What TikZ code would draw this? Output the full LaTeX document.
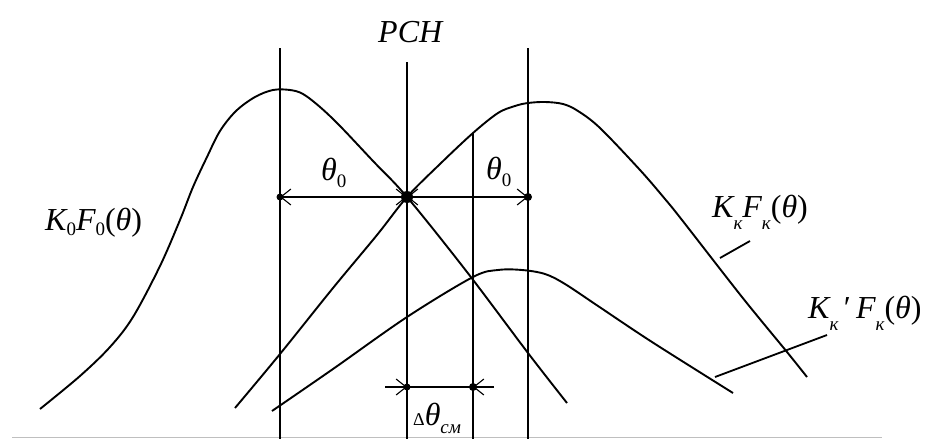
\documentclass[tikz,border=0pt]{standalone}
\usepackage{fontspec}
\setmainfont{Liberation Serif}
\usetikzlibrary{arrows.meta,calc}
\newcommand\lsub[2]{\raisebox{-#1pt}{\fontsize{19}{19}\selectfont #2}}
\begin{document}
\begin{tikzpicture}[x=1pt,y=-1pt,
  vline/.style={line width=2.1pt},
  curve/.style={line width=1.9pt, line join=round},
  dim/.style={line width=2pt},
  barb/.style={-{Straight Barb[length=10pt,width=16pt,line width=1.1pt]}},
  leader/.style={line width=1.8pt},
  lbl/.style={inner sep=0pt, anchor=base west, font=\fontsize{32}{32}\selectfont\itshape},
  dot/.style={circle, fill, inner sep=0pt, minimum size=#1}]
\useasboundingbox (0,0) rectangle (929,439);

% bottom border
\coordinate (g1) at (12,437.5);
\coordinate (g2) at (882,437.5);
\draw[gray!50, line width=1.5pt] (g1) -- (g2);

% vertical lines
\coordinate (Lt) at (280,48);  \coordinate (Lb) at (280,439);
\coordinate (Ct) at (407,62);  \coordinate (Cb) at (407,439);
\coordinate (It) at (473,133); \coordinate (Ib) at (473,439);
\coordinate (Rt) at (528,48);  \coordinate (Rb) at (528,439);
\draw[vline] (Lt) -- (Lb);
\draw[vline] (Ct) -- (Cb);
\draw[vline] (It) -- (Ib);
\draw[vline] (Rt) -- (Rb);

% curves
\draw[curve] plot[smooth, tension=0.55] coordinates {(40,409) (80,376) (110,347) (133,317) (160,266) (180,220) (193,187) (207,157) (220,131) (236,111) (255,97) (273,90) (290,90) (303,94) (320,107) (340,126) (373,161) (407,197) (467,272) (528,353) (567,403)};
\draw[curve] plot[smooth, tension=0.55] coordinates {(235,408) (280,354) (333,288) (377,235) (407,197) (440,164) (473,133) (498,113) (515,106) (528,103) (545,102) (563,104) (578,111) (600,128) (640,170) (665,199) (682,220) (742,297) (787,352) (807,377)};
\draw[curve] plot[smooth, tension=0.55] coordinates {(272,411) (333,369) (407,317) (473,277) (498,270) (522,270) (545,274) (565,284) (598,306) (652,342) (733,393)};

% theta_0 dimension lines
\coordinate (dL) at (280,197);
\coordinate (dC) at (407,197);
\coordinate (dR) at (528,197);
\draw[dim] (dL) -- (dR);
\draw[barb] ($(dL)!0.5!(dC)$) -- (dL);
\draw[barb] ($(dL)!0.5!(dC)$) -- (dC);
\draw[barb] ($(dC)!0.5!(dR)$) -- (dC);
\draw[barb] ($(dC)!0.5!(dR)$) -- (dR);
\node[dot=7pt] at (dL) {};
\node[dot=12pt] at (dC) {};
\node[dot=8pt] at (dR) {};

% delta theta dimension
\coordinate (eA) at (385,387);
\coordinate (eL) at (407,387);
\coordinate (eR) at (473,387);
\coordinate (eB) at (494,387);
\draw[dim] (eA) -- (eB);
\draw[barb] (eA) -- (eL);
\draw[barb] (eB) -- (eR);
\node[dot=7pt] at (eL) {};
\node[dot=8pt] at (eR) {};

% labels
\node[lbl] (pch) at (378,42) {РСН};
\node[lbl] (k0) at (45,230) {K\lsub{5}{\upshape 0}F\lsub{5}{\upshape 0}{\upshape(}θ{\upshape)}};
\node[lbl] (kk) at (712,217) {K\lsub{12}{к}F\lsub{12}{к}{\upshape(}θ{\upshape)}};
\node[lbl] (kk2) at (808,318) {K\lsub{12}{к}\,{\upshape ′}\,F\lsub{12}{к}{\upshape(}θ{\upshape)}};
\node[lbl] (t1) at (321,180) {θ\lsub{7}{\upshape 0}};
\node[lbl] (t2) at (486,179) {θ\lsub{7}{\upshape 0}};
\node[lbl] (dt) at (413,425) {{\fontsize{18}{18}\selectfont\upshape Δ}θ\lsub{8}{см}};

% leaders
\coordinate (a1) at (720,258);
\coordinate (b1) at (750,241);
\draw[leader] (a1) -- (b1);
\coordinate (a2) at (715,377);
\coordinate (b2) at (827,335);
\draw[leader] (a2) -- (b2);
\end{tikzpicture}
\end{document}
